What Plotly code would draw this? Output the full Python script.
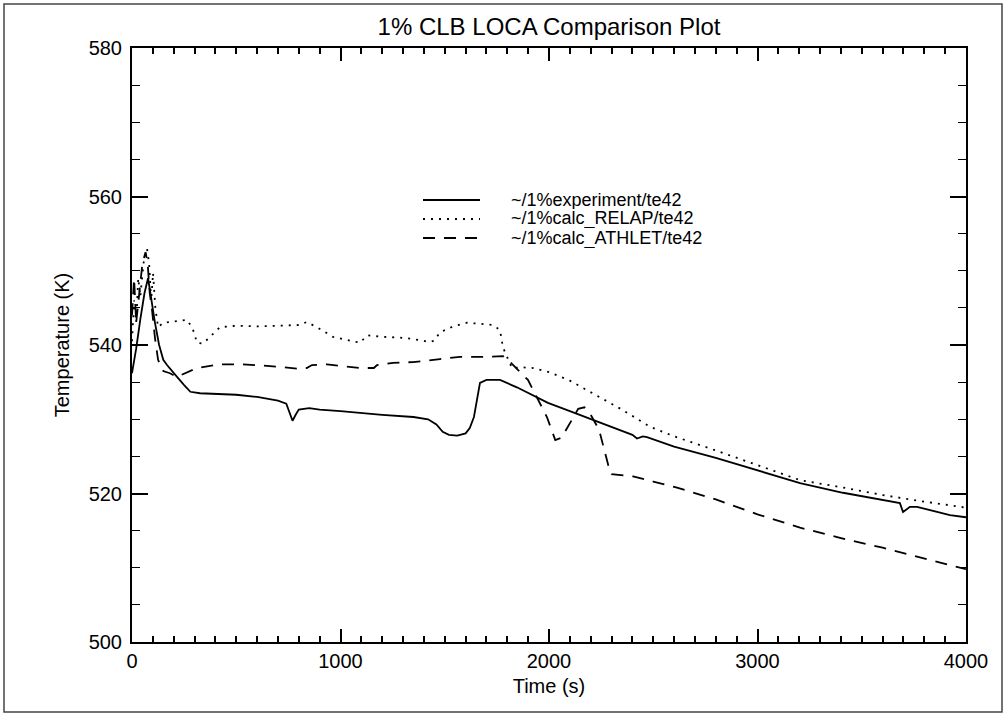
import plotly.graph_objects as go

# ---- data -------------------------------------------------------------
exp_t = [0, 20, 40, 60, 77, 90, 110, 130, 150, 168, 190, 216, 250, 280, 326,
         400, 500, 600, 650, 700, 740, 755, 770, 785, 800, 850, 900, 1000,
         1100, 1200, 1350, 1420, 1460, 1490, 1520, 1560, 1600, 1620, 1640,
         1669, 1700, 1765, 1846, 1942, 1995, 2100, 2211, 2300, 2400, 2422,
         2450, 2470, 2600, 2800, 2964, 3204, 3410, 3550, 3683, 3698, 3731,
         3765, 3850, 3923, 4000]
exp_v = [536.2, 539.5, 543.5, 547.0, 549.0, 546.5, 543.0, 540.0, 538.0, 537.3,
         536.5, 535.7, 534.6, 533.7, 533.5, 533.4, 533.3, 533.0, 532.8, 532.5,
         532.1, 531.0, 529.8, 530.6, 531.3, 531.5, 531.3, 531.1, 530.8, 530.6,
         530.3, 530.0, 529.3, 528.3, 527.9, 527.8, 528.1, 528.8, 530.3, 534.9,
         535.3, 535.3, 534.3, 532.9, 532.2, 531.1, 529.9, 529.0, 527.9, 527.4,
         527.7, 527.6, 526.3, 524.8, 523.4, 521.4, 520.1, 519.4, 518.7, 517.5,
         518.2, 518.2, 517.6, 517.1, 516.8]

relap_t = [0, 10, 20, 30, 40, 55, 72, 82, 92, 101, 112, 125, 150, 200, 263,
           290, 312, 341, 374, 422, 500, 600, 700, 805, 838, 887, 964, 1060,
           1094, 1127, 1200, 1285, 1350, 1429, 1450, 1477, 1540, 1607, 1680,
           1731, 1765, 1779, 1822, 1870, 1923, 2005, 2100, 2245, 2350, 2484,
           2600, 2800, 2964, 3204, 3410, 3600, 3800, 4000]
relap_v = [540.5, 546.0, 543.0, 549.0, 546.5, 551.0, 553.0, 551.0, 546.0,
           549.7, 545.0, 542.4, 543.0, 543.2, 543.4, 542.3, 540.3, 540.2,
           541.1, 542.4, 542.6, 542.5, 542.6, 542.7, 543.1, 542.4, 541.1,
           540.5, 540.3, 541.3, 541.1, 541.0, 540.8, 540.4, 540.6, 541.7,
           542.5, 543.0, 542.8, 542.7, 542.0, 539.7, 536.9, 537.0, 536.9,
           536.3, 535.2, 533.0, 531.3, 529.0, 527.7, 525.8, 524.2, 521.8,
           520.8, 519.8, 518.9, 518.1]

athlet_t = [0, 10, 20, 35, 50, 65, 75, 85, 95, 110, 125, 150, 182, 215, 260,
            312, 422, 532, 647, 772, 800, 838, 863, 935, 1012, 1094, 1160,
            1175, 1252, 1348, 1477, 1573, 1683, 1779, 1803, 1899, 1990, 2030,
            2060, 2100, 2140, 2170, 2200, 2240, 2270, 2290, 2300, 2403, 2500,
            2614, 2800, 3000, 3204, 3400, 3600, 3800, 4000]
athlet_v = [544.0, 549.0, 543.0, 547.0, 551.0, 552.5, 551.0, 547.0, 545.0,
            541.0, 538.0, 536.5, 536.2, 535.7, 536.3, 536.9, 537.4, 537.4,
            537.2, 536.9, 536.8, 536.9, 537.3, 537.4, 537.2, 536.9, 536.9,
            537.3, 537.6, 537.7, 538.1, 538.4, 538.4, 538.5, 538.0, 535.3,
            530.3, 527.2, 527.5, 529.5, 531.4, 531.6, 530.6, 528.6, 525.5,
            523.2, 522.6, 522.3, 521.6, 520.8, 519.2, 517.2, 515.4, 514.0,
            512.7, 511.2, 509.8]

series_names = ["~/1%experiment/te42", "~/1%calc_RELAP/te42", "~/1%calc_ATHLET/te42"]
series_dash = ["solid", "2px,6px", "12px,9px"]

# ---- layout geometry (pixels) ------------------------------------------
W, H = 1006, 716
L, R, T, B = 132, 966, 48, 642
FONT = "Liberation Sans, Arial, Helvetica, sans-serif"


def px_x(px):
    return (px - L) / (R - L)


def px_y(py):
    return (B - py) / (B - T)


fig = go.Figure()
for t, v, name, dash in zip([exp_t, relap_t, athlet_t],
                            [exp_v, relap_v, athlet_v],
                            series_names, series_dash):
    fig.add_trace(go.Scatter(x=t, y=v, mode="lines", name=name,
                             line=dict(color="black", width=1.8, dash=dash),
                             showlegend=False))

# hand-placed legend block inside the plot
shapes = []
annotations = []
leg_rows = [200, 219, 238]
for row, name, dash in zip(leg_rows, series_names, series_dash):
    shapes.append(dict(type="line", xref="paper", yref="paper",
                       x0=px_x(423), x1=px_x(480), y0=px_y(row), y1=px_y(row),
                       line=dict(color="black", width=1.8, dash=dash)))
    annotations.append(dict(xref="paper", yref="paper", x=px_x(510), y=px_y(row),
                            text=name, showarrow=False, xanchor="left",
                            yanchor="middle", height=19, borderpad=0,
                            font=dict(family=FONT, size=18, color="black")))

# page frame
shapes.append(dict(type="rect", xref="paper", yref="paper",
                   x0=px_x(4), x1=px_x(1002), y0=px_y(712), y1=px_y(4),
                   line=dict(color="#444444", width=1.5)))

tick_font = dict(family=FONT, size=20, color="black")
title_font = dict(family=FONT, size=20, color="black")

fig.update_layout(
    width=W, height=H,
    margin=dict(l=L, r=W - R, t=T, b=H - B),
    paper_bgcolor="white", plot_bgcolor="white",
    title=dict(text="1% CLB LOCA Comparison Plot", x=0.5, xref="paper",
               xanchor="center", y=1 - 27 / H, yanchor="middle",
               font=dict(family=FONT, size=24, color="black")),
    xaxis=dict(range=[0, 4000], tickmode="linear", tick0=0, dtick=1000,
               showgrid=False, zeroline=False, showline=True,
               linecolor="black", linewidth=2, mirror="ticks",
               ticks="inside", ticklen=13, tickwidth=2, tickcolor="black",
               tickfont=tick_font,
               minor=dict(tick0=0, dtick=100, ticks="inside", ticklen=6,
                          tickwidth=1.5, tickcolor="black", showgrid=False),
               title=dict(text="Time (s)", standoff=8, font=title_font)),
    yaxis=dict(range=[500, 580], tickmode="linear", tick0=500, dtick=20,
               showgrid=False, zeroline=False, showline=True,
               linecolor="black", linewidth=2, mirror="ticks",
               ticks="inside", ticklen=16, tickwidth=1.6, tickcolor="black",
               tickfont=tick_font, ticklabelstandoff=4,
               minor=dict(tick0=500, dtick=5, ticks="inside", ticklen=8,
                          tickwidth=1.2, tickcolor="black", showgrid=False),
               title=dict(text="Temperature (K)", standoff=14, font=title_font)),
    shapes=shapes,
    annotations=annotations,
)

fig.write_html("out.html")
